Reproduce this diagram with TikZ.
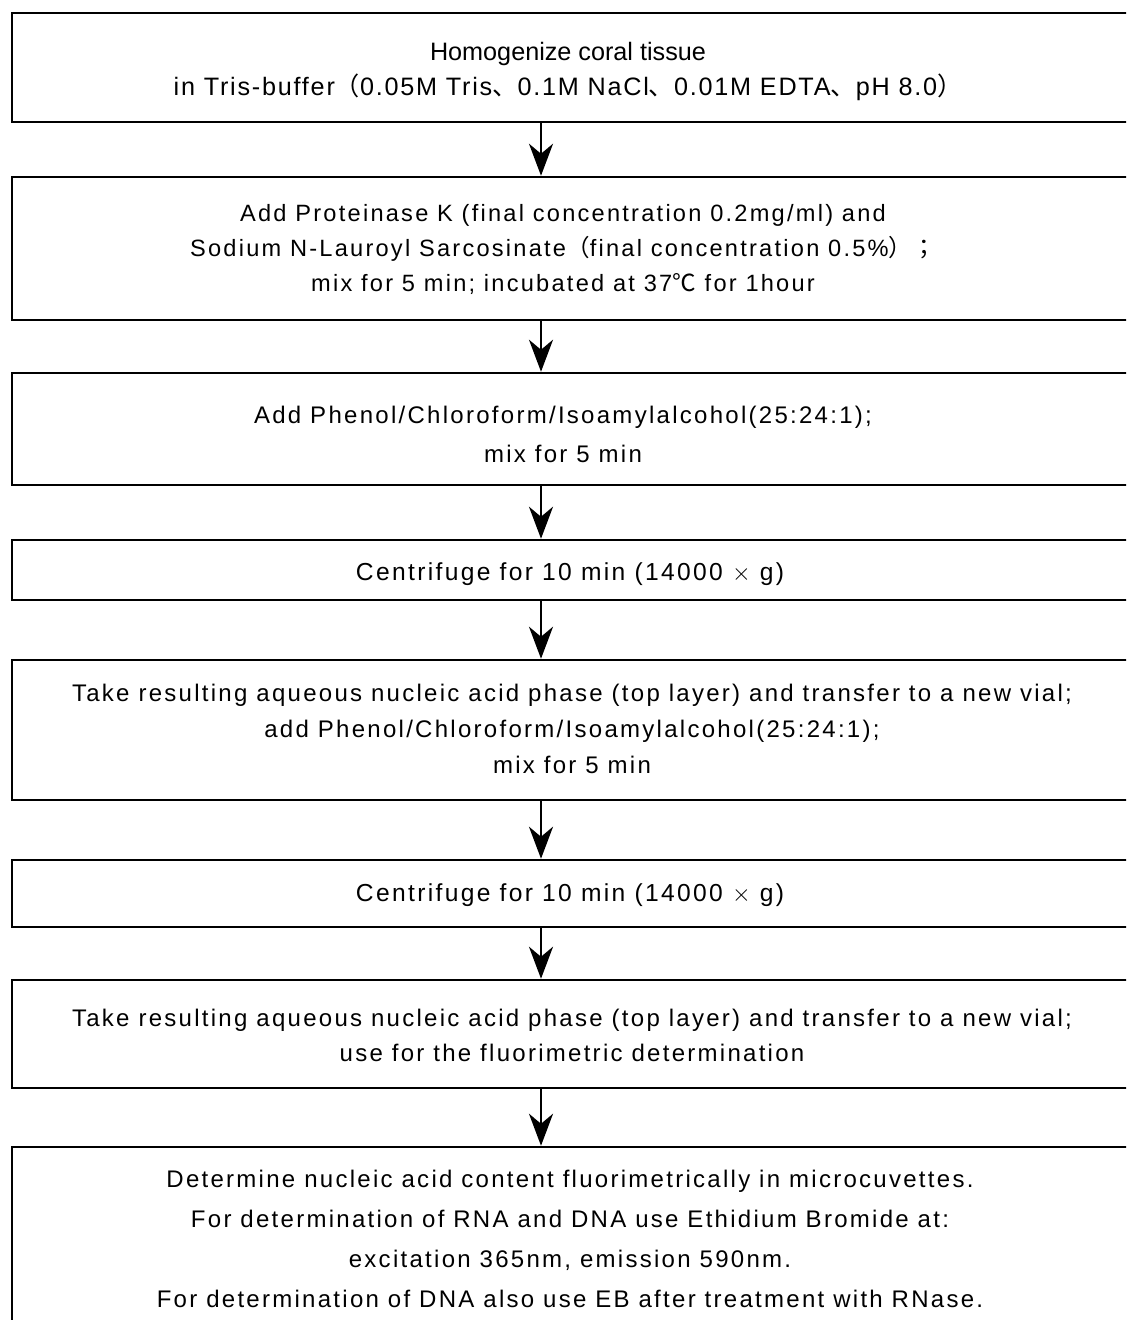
\documentclass[tikz,border=0pt]{standalone}
\usepackage{fontspec}
\setmainfont{Liberation Sans}
\newfontfamily\spfont[LetterSpace=9.5]{Liberation Sans}
\newfontfamily\spbfont[LetterSpace=7]{Liberation Sans}
\newfontfamily\cjk{Noto Sans CJK JP}
\usetikzlibrary{arrows.meta}
\begin{document}
\begin{tikzpicture}[x=0.5pt,y=-0.5pt,
  box/.style={draw, line width=1.25pt, rectangle, minimum width=564pt, inner sep=0pt},
  txt/.style={align=center, font=\spfont\fontsize{12}{17.5}\selectfont, inner sep=0pt},
  arr/.style={line width=1.25pt, -{Stealth[length=16pt,width=12pt,inset=5pt]}}]
\useasboundingbox (0,0) rectangle (1126,1320);
\clip (0,0) rectangle (1126,1320);
\coordinate (ax) at (541,0);
\node[box, minimum height=54.5pt] (b1) at (576,67.5) {};
\node[box, minimum height=71.5pt] (b2) at (576,248.5) {};
\node[box, minimum height=56pt] (b3) at (576,429) {};
\node[box, minimum height=30pt] (b4) at (576,570) {};
\node[box, minimum height=70pt] (b5) at (576,730) {};
\node[box, minimum height=33.5pt] (b6) at (576,893.5) {};
\node[box, minimum height=54pt] (b7) at (576,1034) {};
\node[box, minimum height=99pt] (b8) at (576,1246) {};
\node[txt, font=\fontsize{12.6}{17.5}\selectfont] (t1) at (568,71) {Homogenize coral tissue\\
  {\spbfont in Tris-buffer{\cjk （}0.05M Tris{\cjk 、}0.1M NaCl{\cjk 、}0.01M EDTA{\cjk 、}pH 8.0{\cjk ）}}};
\node[txt, font=\spfont\fontsize{11.8}{17.5}\selectfont] (t2) at (563,249) {Add Proteinase K (final concentration 0.2mg/ml) and\\
  Sodium N-Lauroyl Sarcosinate{\cjk （}final concentration 0.5\%{\cjk ）；}\\
  mix for 5 min; incubated at 37{\cjk ℃} for 1hour};
\node[txt, font=\spfont\fontsize{12}{19.5}\selectfont] (t3) at (563,434) {Add Phenol/Chloroform/Isoamylalcohol(25:24:1);\\
  mix for 5 min};
\node[txt, font=\spfont\fontsize{12.3}{17.5}\selectfont] (t4) at (570,574) {Centrifuge for 10 min (14000 $\times$ g)};
\node[txt, font=\spfont\fontsize{12}{18}\selectfont] (t5) at (572,729) {Take resulting aqueous nucleic acid phase (top layer) and transfer to a new vial;\\
  add Phenol/Chloroform/Isoamylalcohol(25:24:1);\\
  mix for 5 min};
\node[txt, font=\spfont\fontsize{12.3}{17.5}\selectfont] (t6) at (570,895) {Centrifuge for 10 min (14000 $\times$ g)};
\node[txt] (t7) at (572,1035) {Take resulting aqueous nucleic acid phase (top layer) and transfer to a new vial;\\
  use for the fluorimetric determination};
\node[txt, font=\spfont\fontsize{12}{20}\selectfont] (t8) at (570,1239) {Determine nucleic acid content fluorimetrically in microcuvettes.\\
  For determination of RNA and DNA use Ethidium Bromide at:\\
  excitation 365nm, emission 590nm.\\
  For determination of DNA also use EB after treatment with RNase.};
\draw[arr] (b1.south -| ax) -- (b2.north -| ax);
\draw[arr] (b2.south -| ax) -- (b3.north -| ax);
\draw[arr] (b3.south -| ax) -- (b4.north -| ax);
\draw[arr] (b4.south -| ax) -- (b5.north -| ax);
\draw[arr] (b5.south -| ax) -- (b6.north -| ax);
\draw[arr] (b6.south -| ax) -- (b7.north -| ax);
\draw[arr] (b7.south -| ax) -- (b8.north -| ax);
\end{tikzpicture}
\end{document}
